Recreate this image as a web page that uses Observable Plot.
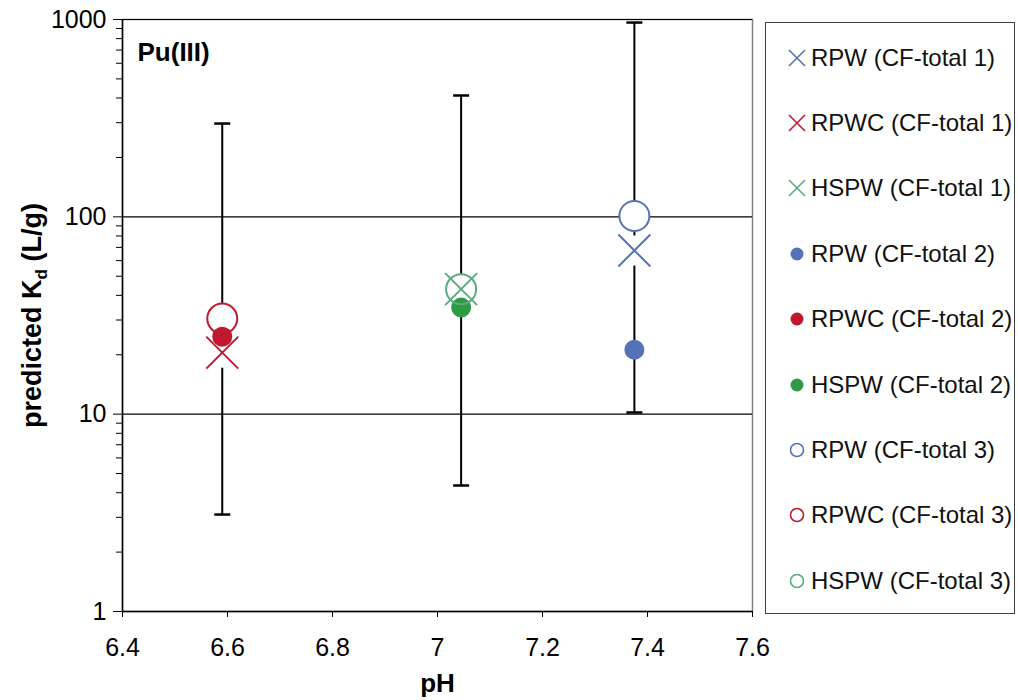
<!DOCTYPE html>
<html>
<head>
<meta charset="utf-8">
<script src="https://cdn.jsdelivr.net/npm/d3@7"></script>
<script src="https://cdn.jsdelivr.net/npm/@observablehq/plot@0.6"></script>
<style>
  html, body { margin: 0; padding: 0; background: white; }
  #wrap { position: relative; width: 1018px; height: 700px; font-family: "Liberation Sans", Arial, sans-serif; }
  #legend { position: absolute; left: 765px; top: 22px; width: 250px; height: 592px; box-sizing: border-box;
    border: 1px solid #404040; padding-top: 2px; background: white; }
  .item { height: 65.4px; display: flex; align-items: center; font-size: 24px; color: #111; white-space: nowrap; }
  .item svg { margin-left: 20px; margin-right: 3px; flex: none; }
</style>
</head>
<body>
<div id="wrap"></div>
<script>
// ---- data ----
const waters = ["RPWC", "HSPW", "RPW"];
const pH = [6.59, 7.045, 7.375];
const kdCF1 = [20.5, 43, 67.5];    // crosses
const kdCF2 = [24.7, 34.7, 21.2];  // filled circles
const kdCF3 = [30.5, 43, 101];     // open circles
const errLow = [3.1, 4.35, 10.2];
const errHigh = [297, 412, 965];
const xTicks = [6.4, 6.6, 6.8, 7.0, 7.2, 7.4, 7.6];
const xTickLabels = ["6.4", "6.6", "6.8", "7", "7.2", "7.4", "7.6"];
const yTicks = [1, 10, 100, 1000];
const yTickLabels = ["1", "10", "100", "1000"];
const yMinor = [2,3,4,5,6,7,8,9,20,30,40,50,60,70,80,90,200,300,400,500,600,700,800,900];
const legendLabels = [
  "RPW (CF-total 1)", "RPWC (CF-total 1)", "HSPW (CF-total 1)",
  "RPW (CF-total 2)", "RPWC (CF-total 2)", "HSPW (CF-total 2)",
  "RPW (CF-total 3)", "RPWC (CF-total 3)", "HSPW (CF-total 3)"
];
const legendWater = ["RPW","RPWC","HSPW","RPW","RPWC","HSPW","RPW","RPWC","HSPW"];
const legendKind = ["cross","cross","cross","filled","filled","filled","open","open","open"];

const lineColor = {RPW: "#5572b8", RPWC: "#c0182f", HSPW: "#5aab80"};
const fillColor = {RPW: "#5572b8", RPWC: "#c0182f", HSPW: "#2e9a44"};

const rows = waters.map((w, i) => ({water: w, pH: pH[i], cf1: kdCF1[i], cf2: kdCF2[i], cf3: kdCF3[i], lo: errLow[i], hi: errHigh[i]}));

const capSymbol = { draw(ctx, size) { ctx.moveTo(-8, 0); ctx.lineTo(8, 0); } };

const chart = Plot.plot({
  width: 1018, height: 700,
  marginLeft: 122, marginRight: 266, marginTop: 19, marginBottom: 89,
  style: { fontFamily: "Liberation Sans, Arial, sans-serif", fontSize: "25px", color: "black", background: "white", overflow: "visible" },
  x: { domain: [6.4, 7.6] },
  y: { type: "log", domain: [1, 1000] },
  marks: [
    Plot.frame({ stroke: "#808080", strokeWidth: 1.5 }),
    Plot.ruleY([10, 100, 1000], { stroke: "black", strokeWidth: 1.2 }),
    Plot.ruleY([1], { stroke: "black", strokeWidth: 1.5 }),
    Plot.ruleX([6.4], { stroke: "black", strokeWidth: 1.5 }),
    Plot.axisX({ ticks: xTicks, tickFormat: d => xTickLabels[xTicks.indexOf(d)], tickSize: 6, tickPadding: 21, label: null, stroke: "black", fontSize: 25 }),
    Plot.axisY({ ticks: yTicks, tickFormat: d => yTickLabels[yTicks.indexOf(d)], tickSize: 9, tickPadding: 7, label: null, stroke: "black", fontSize: 25 }),
    Plot.axisY({ ticks: yMinor, tickFormat: () => "", tickSize: 6, label: null, stroke: "black" }),
    // error bars
    Plot.ruleX(rows, { x: "pH", y1: "lo", y2: "hi", stroke: "black", strokeWidth: 2 }),
    Plot.dot(rows, { x: "pH", y: "lo", symbol: capSymbol, stroke: "black", strokeWidth: 2.5, fill: "none" }),
    Plot.dot(rows, { x: "pH", y: "hi", symbol: capSymbol, stroke: "black", strokeWidth: 2.5, fill: "none" }),
    // backgrounds for crosses and open circles
    Plot.dot(rows, { x: "pH", y: "cf1", symbol: "square", r: 17, fill: "white", stroke: "none" }),
    Plot.dot(rows, { x: "pH", y: "cf3", symbol: "circle", r: 15, fill: "white", stroke: "none" }),
    // CF-total 1 crosses
    Plot.dot(rows, { x: "pH", y: "cf1", symbol: "times", r: 14.6, stroke: d => lineColor[d.water], strokeWidth: 2 }),
    // CF-total 2 filled circles
    Plot.dot(rows, { x: "pH", y: "cf2", symbol: "circle", r: 10, fill: d => fillColor[d.water], stroke: "none" }),
    // CF-total 3 open circles
    Plot.dot(rows, { x: "pH", y: "cf3", symbol: "circle", r: 15, fill: "none", stroke: d => lineColor[d.water], strokeWidth: 2 }),
    // texts
    Plot.text(["Pu(III)"], { text: d => d, frameAnchor: "top-left", dx: 15, dy: 33, textAnchor: "start", lineAnchor: "middle", fontWeight: "bold", fontSize: 26 }),
    Plot.text(["pH"], { text: d => d, frameAnchor: "bottom", dy: 72, lineAnchor: "middle", fontWeight: "bold", fontSize: 26 }),
    Plot.text(["predicted Kd (L/g)"], { text: d => d, frameAnchor: "left", dx: -90, rotate: -90, textAnchor: "middle", lineAnchor: "middle", fontWeight: "bold", fontSize: 27, className: "ylab" })
  ]
});

document.getElementById("wrap").appendChild(chart);

// subscript in y label
const yl = d3.select(chart).select(".ylab text");
yl.text(null);
yl.append("tspan").text("predicted K");
yl.append("tspan").attr("font-size", 17).attr("dy", "6").text("d");
yl.append("tspan").attr("dy", "-6").text(" (L/g)");

// legend
const legend = d3.select("#wrap").append("div").attr("id", "legend");
legendLabels.forEach((lab, i) => {
  const item = legend.append("div").attr("class", "item");
  const s = item.append("svg").attr("width", 22).attr("height", 22).attr("viewBox", "-11 -11 22 22");
  const w = legendWater[i], k = legendKind[i];
  if (k === "cross") {
    s.append("path").attr("d", "M-8,-8L8,8M-8,8L8,-8").attr("stroke", lineColor[w]).attr("stroke-width", 1.6).attr("fill", "none");
  } else if (k === "filled") {
    s.append("circle").attr("r", 6.5).attr("fill", fillColor[w]);
  } else {
    s.append("circle").attr("r", 6.5).attr("fill", "white").attr("stroke", lineColor[w]).attr("stroke-width", 1.6);
  }
  item.append("span").text(lab);
});
</script>
</body>
</html>
